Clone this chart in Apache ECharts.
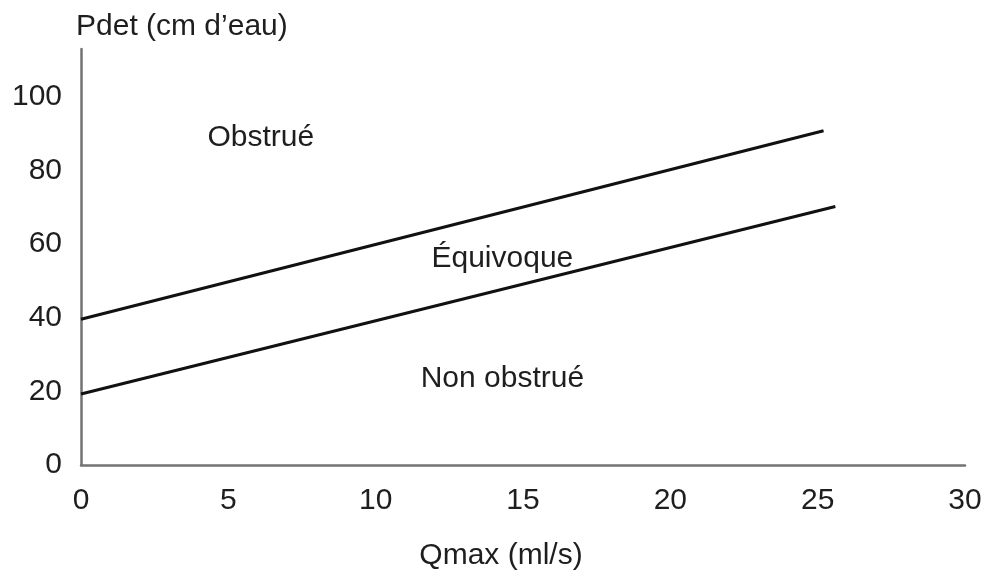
<!DOCTYPE html>
<html>
<head>
<meta charset="utf-8">
<script src="https://cdn.jsdelivr.net/npm/echarts@6/dist/echarts.min.js"></script>
<style>
  html, body { margin: 0; padding: 0; background: #fff; }
  #chart { width: 991px; height: 576px; }
</style>
</head>
<body>
<div id="chart"></div>
<script>
// boundary lines of the nomogram (Qmax, Pdet)
var upperLine = [[0, 39.6], [25.2, 90.8]];
var lowerLine = [[0, 19.3], [25.6, 70.2]];

// zone labels
var zoneNames = ['Obstrué', 'Équivoque', 'Non obstrué'];
var zonePos = [[6.1, 89], [14.3, 56], [14.3, 23.5]];

var xTicks = [0, 5, 10, 15, 20, 25, 30];
var yTicks = [0, 20, 40, 60, 80, 100];

var font = '"Liberation Sans", Arial, sans-serif';
var axisColor = '#737373';
var txt = '#1e1e1e';

var chart = echarts.init(document.getElementById('chart'));

var zoneData = zoneNames.map(function (n, i) {
  return { name: n, value: zonePos[i] };
});

var option = {
  animation: false,
  backgroundColor: '#fff',
  grid: { left: 81, right: 26, top: 49, bottom: 108 },
  xAxis: {
    type: 'value',
    min: 0,
    max: 30,
    interval: 5,
    name: 'Qmax (ml/s)',
    nameLocation: 'middle',
    nameGap: 76,
    nameTextStyle: { fontFamily: font, fontSize: 30, color: txt, padding: [0, 44, 0, 0] },
    axisLine: { show: true, lineStyle: { color: axisColor, width: 2.5 } },
    axisTick: { show: false },
    splitLine: { show: false },
    axisLabel: {
      margin: 21,
      fontFamily: font, fontSize: 30, color: txt,
      formatter: function (v) { return xTicks.indexOf(v) >= 0 ? String(v) : ''; }
    }
  },
  yAxis: {
    type: 'value',
    min: 0,
    max: 113,
    interval: 20,
    name: 'Pdet (cm d\u2019eau)',
    nameLocation: 'end',
    nameGap: 7,
    nameTextStyle: { fontFamily: font, fontSize: 30, color: txt, align: 'left', padding: [0, 0, 0, -5] },
    axisLine: { show: true, lineStyle: { color: axisColor, width: 2.5 } },
    axisTick: { show: false },
    splitLine: { show: false },
    axisLabel: {
      margin: 19,
      fontFamily: font, fontSize: 30, color: txt,
      formatter: function (v) { return yTicks.indexOf(v) >= 0 ? String(v) : ''; }
    }
  },
  series: [
    {
      type: 'line',
      data: upperLine,
      symbol: 'none',
      lineStyle: { color: '#111', width: 3 }
    },
    {
      type: 'line',
      data: lowerLine,
      symbol: 'none',
      lineStyle: { color: '#111', width: 3 }
    },
    {
      type: 'scatter',
      data: zoneData,
      symbolSize: 1,
      itemStyle: { opacity: 1, color: 'rgba(0,0,0,0)' },
      label: {
        show: true,
        position: 'inside',
        formatter: '{b}',
        fontFamily: font,
        fontSize: 30,
        color: txt
      }
    }
  ]
};

chart.setOption(option);
</script>
</body>
</html>
